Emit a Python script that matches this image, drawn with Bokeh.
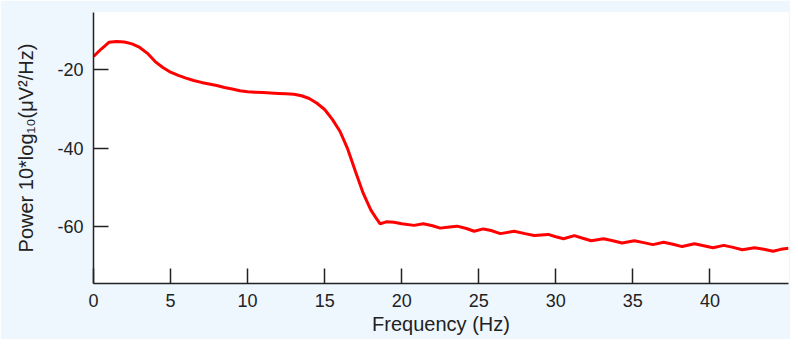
from bokeh.plotting import figure
from bokeh.models import Range1d, FixedTicker, ColumnDataSource
from bokeh.embed import file_html
from bokeh.resources import INLINE

freq = [0.0, 0.5, 1.0, 1.5, 2.0, 2.5, 3.0, 3.5, 4.0, 4.5, 5.0, 5.5, 6.0, 6.5, 7.0, 7.5,
        8.0, 8.5, 9.0, 9.5, 10.0, 10.5, 11.0, 11.5, 12.0, 12.5, 13.0, 13.5, 14.0, 14.5,
        15.0, 15.5, 16.0, 16.5, 17.0, 17.5, 18.0, 18.3, 18.6, 19.0, 19.5, 20.0, 20.8,
        21.4, 22.0, 22.5, 23.1, 23.6, 24.2, 24.7, 25.3, 25.8, 26.4, 27.3, 28.0, 28.6,
        29.5, 30.0, 30.5, 31.2, 31.7, 32.3, 33.1, 33.7, 34.3, 35.1, 35.7, 36.3, 37.0,
        37.6, 38.2, 39.0, 39.6, 40.2, 40.9, 41.5, 42.1, 42.9, 43.5, 44.1, 44.6, 45.1]
power = [-16.7, -14.8, -13.1, -12.9, -13.0, -13.5, -14.4, -15.9, -18.0, -19.5, -20.7,
         -21.5, -22.2, -22.8, -23.3, -23.7, -24.1, -24.6, -25.0, -25.4, -25.7, -25.8,
         -25.9, -26.0, -26.1, -26.2, -26.3, -26.7, -27.4, -28.6, -30.2, -32.7, -35.8,
         -40.3, -46.0, -51.5, -55.8, -57.6, -59.3, -58.8, -58.9, -59.3, -59.7, -59.3,
         -59.8, -60.4, -60.1, -59.9, -60.5, -61.2, -60.6, -61.0, -61.8, -61.2, -61.8,
         -62.3, -62.0, -62.6, -63.1, -62.3, -62.9, -63.6, -63.1, -63.6, -64.2, -63.6,
         -64.1, -64.6, -64.0, -64.5, -65.1, -64.4, -64.9, -65.4, -64.8, -65.3, -65.9,
         -65.4, -65.8, -66.3, -65.8, -65.5]

x_ticks = [0, 5, 10, 15, 20, 25, 30, 35, 40]
y_ticks = [-60, -40, -20]
y_tick_labels = ["-60", "-40", "-20"]
x_label = "Frequency (Hz)"
y_label = "Power 10*log\u2081\u2080(\u03bcV\u00b2/Hz)"

BG = "#eef6fe"
FONT = "Liberation Sans"

p = figure(width=790, height=339, output_backend="svg", toolbar_location=None,
           x_range=Range1d(0, 45.1), y_range=Range1d(-74.5, -5.5),
           min_border_left=93, min_border_right=2, min_border_top=12, min_border_bottom=56)
p.border_fill_color = BG
p.background_fill_color = "white"
p.outline_line_color = None
p.grid.visible = False

src = ColumnDataSource(dict(f=freq, pw=power))
p.line("f", "pw", source=src, line_color="#ff0000", line_width=3)

for ax, ticks in ((p.xaxis[0], x_ticks), (p.yaxis[0], y_ticks)):
    ax.ticker = FixedTicker(ticks=ticks)
    ax.minor_tick_line_color = None
    ax.major_tick_in = 15
    ax.major_tick_out = 0
    ax.major_tick_line_color = "#222222"
    ax.major_tick_line_width = 1.5
    ax.axis_line_color = "#222222"
    ax.axis_line_width = 1.5
    ax.major_label_text_font = FONT
    ax.major_label_text_font_size = "18px"
    ax.major_label_text_color = "#222222"
    ax.major_label_standoff = 10
    ax.axis_label_text_font = FONT
    ax.axis_label_text_font_size = "20px"
    ax.axis_label_text_font_style = "normal"
    ax.axis_label_text_color = "#222222"

p.yaxis.major_label_overrides = dict(zip(y_ticks, y_tick_labels))
p.xaxis.axis_label = x_label
p.yaxis.axis_label = y_label
p.xaxis.axis_label_standoff = 3
p.yaxis.axis_label_standoff = 17

html = file_html(p, INLINE)
html = html.replace("<body>", '<body style="background-color:%s;">' % BG, 1)
open("out.html", "w").write(html)
